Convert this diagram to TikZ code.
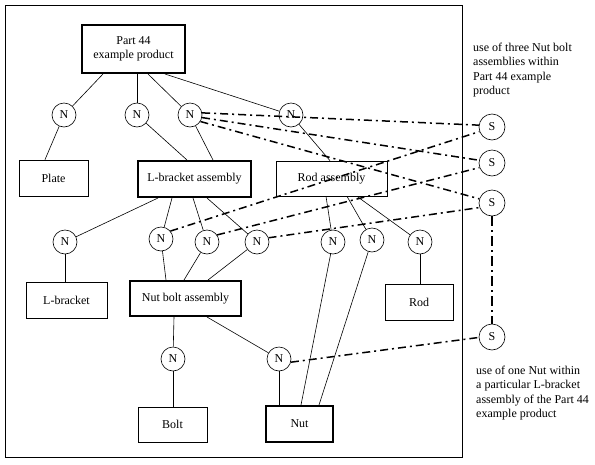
\documentclass[tikz,border=0pt]{standalone}
\usepackage{fontspec}
\setmainfont{Liberation Serif}
\usetikzlibrary{calc}
\begin{document}
\begin{tikzpicture}[x=1pt,y=-1pt,
  every node/.style={font=\fontsize{12}{14.5}\selectfont},
  box/.style={draw,line width=0.7pt,inner sep=0pt,align=center},
  thickbox/.style={box,line width=2pt},
  nn/.style={circle,draw,line width=0.6pt,minimum size=24pt,inner sep=0pt},
  ss/.style={circle,draw,line width=0.6pt,minimum size=26pt,inner sep=0pt},
  link/.style={line width=0.6pt},
  dd/.style={line width=1.5pt,dash pattern=on 8pt off 4pt on 2pt off 4pt},
  ddv/.style={line width=2pt,dash pattern=on 10pt off 4pt on 2pt off 4pt}]
\useasboundingbox (0,0) rectangle (595,464);
\node[draw,line width=0.8pt,minimum width=457pt,minimum height=452pt,anchor=north west,inner sep=0pt] (frame) at (5,5) {};
% boxes
\node[thickbox,minimum width=103pt,minimum height=48pt] (P) at (133.5,49) {Part 44\\example product};
\node[box,minimum width=69pt,minimum height=36pt] (plate) at (53.5,178) {Plate};
\node[thickbox,minimum width=113pt,minimum height=36pt] (LBA) at (194.5,179) {L-bracket assembly};
\node[box,minimum width=111pt,minimum height=35pt] (RA) at (331.5,178.5) {Rod assembly};
\node[box,minimum width=81pt,minimum height=36pt] (LB) at (66.5,300) {L-bracket};
\node[thickbox,minimum width=111pt,minimum height=35pt] (NBA) at (185.5,298.5) {Nut bolt assembly};
\node[box,minimum width=68pt,minimum height=36pt] (rod) at (419,302) {Rod};
\node[box,minimum width=69pt,minimum height=35pt] (bolt) at (172.5,424.5) {Bolt};
\node[thickbox,minimum width=67pt,minimum height=36pt] (nut) at (299.5,424) {Nut};
% N nodes
\node[nn] (N1) at (64,115) {N};
\node[nn] (N2) at (137,115) {N};
\node[nn] (N3) at (190,115) {N};
\node[nn] (N4) at (291,115) {N};
\node[nn] (N5) at (65,242) {N};
\node[nn] (N6) at (161,239) {N};
\node[nn] (N7) at (207,242) {N};
\node[nn] (N8) at (257,242) {N};
\node[nn] (N9) at (333,242) {N};
\node[nn] (N10) at (372,240) {N};
\node[nn] (N11) at (420,242) {N};
\node[nn] (N12) at (173,359) {N};
\node[nn] (N13) at (279,359) {N};
% S nodes
\node[ss] (S1) at (492,127) {S};
\node[ss] (S2) at (492,163) {S};
\node[ss] (S3) at (492,203) {S};
\node[ss] (S4) at (492,337) {S};
% texts
\node[anchor=west,align=left,inner sep=0pt] (t1) at (473,70) {use of three Nut bolt\\assemblies within\\Part 44 example\\product};
\node[anchor=west,align=left,inner sep=0pt] (t2) at (476,393) {use of one Nut within\\a particular L-bracket\\assembly of the Part 44\\example product};
% solid links
\draw[link] ([xshift=-30.5pt]P.south) -- (N1);
\draw[link] ([xshift=3.5pt]P.south) -- (N2);
\draw[link] ([xshift=14.5pt]P.south) -- (N3);
\draw[link] ([xshift=31.5pt]P.south) -- (N4);
\draw[link] (N1) -- ([xshift=-8.5pt]plate.north);
\draw[link] (N2) -- ([xshift=-7.5pt]LBA.north);
\draw[link] (N3) -- ([xshift=18.5pt]LBA.north);
\draw[link] (N4) -- ([xshift=-1.5pt]RA.north);
\draw[link] ([xshift=-36.5pt]LBA.south) -- (N5);
\draw[link] ([xshift=-22.5pt]LBA.south) -- (N6);
\draw[link] ([xshift=-1.5pt]LBA.south) -- (N7);
\draw[link] ([xshift=12.5pt]LBA.south) -- (N8);
\draw[link] ([xshift=-5.5pt]RA.south) -- (N9);
\draw[link] ([xshift=15.5pt]RA.south) -- (N10);
\draw[link] ([xshift=25.5pt]RA.south) -- (N11);
\draw[link] (N5) -- ([xshift=-1.5pt]LB.north);
\draw[link] (N6) -- ([xshift=-19.5pt]NBA.north);
\draw[link] (N7) -- ([xshift=-1.5pt]NBA.north);
\draw[link] (N8) -- ([xshift=22.5pt]NBA.north);
\draw[link] (N11) -- ([xshift=1pt]rod.north);
\draw[link] (N9) -- ([xshift=1.5pt]nut.north);
\draw[link] (N10) -- ([xshift=19.5pt]nut.north);
\draw[link] ([xshift=-11.5pt]NBA.south) -- (N12);
\draw[link] ([xshift=21.5pt]NBA.south) -- (N13);
\draw[link] (N12) -- ([xshift=0.5pt]bolt.north);
\draw[link] (N13) -- ([xshift=-20.5pt]nut.north);
% dash-dot links
\draw[dd] (N3.10) -- (S1.172);
\draw[dd] (N3.-12) -- (S2.168);
\draw[dd] (N3.-32) -- (S3.162);
\draw[dd] (N6.40) -- (S1.200);
\draw[dd] (N7.35) -- (S2.200);
\draw[dd] (N8.20) -- (S3.200);
\draw[dd] (N13.-15) -- (S4.182);
\draw[ddv] (S3) -- (S4);
\end{tikzpicture}
\end{document}
